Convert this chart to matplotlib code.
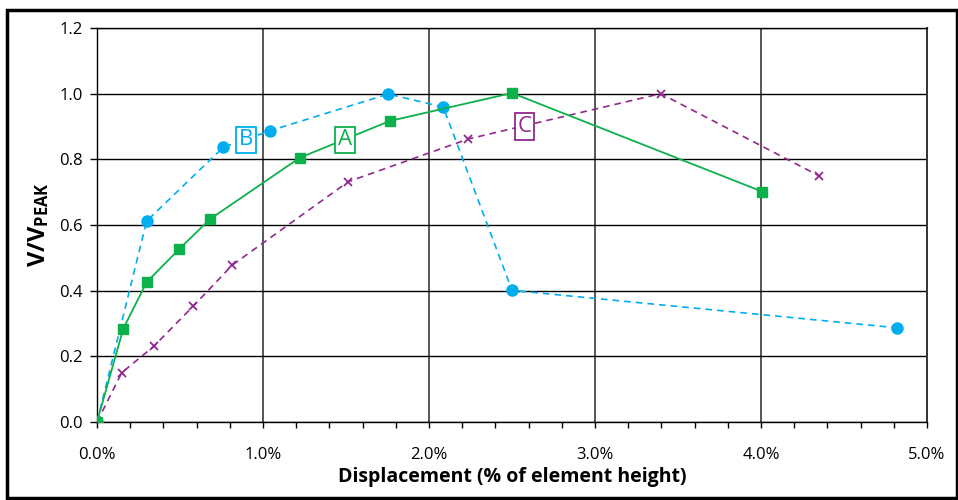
import matplotlib
matplotlib.use('Agg')
import matplotlib.pyplot as plt
from matplotlib.patches import Rectangle
from matplotlib.ticker import MultipleLocator, FuncFormatter

plt.rcParams['font.family'] = ['Open Sans', 'DejaVu Sans']
plt.rcParams['mathtext.fontset'] = 'custom'
plt.rcParams['mathtext.bf'] = 'Open Sans:bold'
plt.rcParams['mathtext.rm'] = 'Open Sans'

# drift (% of element height) and normalised shear V/Vpeak
a_x = [0.0, 0.158, 0.299, 0.494, 0.681, 1.222, 1.765, 2.50, 4.006]
a_y = [0.0, 0.284, 0.426, 0.526, 0.618, 0.805, 0.917, 1.002, 0.702]

b_x = [0.0, 0.299, 0.761, 1.042, 1.755, 2.086, 2.50, 4.817]
b_y = [0.0, 0.612, 0.837, 0.887, 0.999, 0.959, 0.401, 0.287]

c_x = [0.0, 0.149, 0.343, 0.580, 0.815, 1.514, 2.237, 3.396, 4.349]
c_y = [0.0, 0.150, 0.231, 0.353, 0.478, 0.732, 0.862, 1.000, 0.750]

green = '#0DB14B'
cyan = '#00AEEF'
purple = '#92278F'

fig = plt.figure(figsize=(9.58, 5.0), dpi=100)
ax = fig.add_axes([97/958, 78/500, 830/958, 394/500])

# outer frame round the whole figure
fig.patches.append(Rectangle((7/958, 2/500), 950/958, 488/500, transform=fig.transFigure,
                             fill=False, edgecolor='black', linewidth=2.5))

ax.plot(c_x, c_y, color=purple, linestyle=(0, (4, 3)), linewidth=1.2,
        marker='x', markersize=6, markeredgewidth=1.3, zorder=3)
ax.plot(b_x, b_y, color=cyan, linestyle=(0, (4, 3)), linewidth=1.2,
        marker='o', markersize=8, zorder=4)
ax.plot(a_x, a_y, color=green, linestyle='-', linewidth=1.3,
        marker='s', markersize=7, zorder=5)

# series labels
for lx, ly, s, col in [(0.896, 0.859, 'B', cyan), (1.494, 0.859, 'A', green), (2.574, 0.900, 'C', purple)]:
    ax.text(lx, ly, s, color=col, fontsize=16, ha='center', va='center', zorder=6,
            bbox=dict(boxstyle='square,pad=0.12', facecolor='white', edgecolor=col, linewidth=1.3))

ax.set_xlim(0, 5.0)
ax.set_ylim(0, 1.2)
ax.xaxis.set_major_locator(MultipleLocator(1.0))
ax.xaxis.set_minor_locator(MultipleLocator(0.2))
ax.yaxis.set_major_locator(MultipleLocator(0.2))
ax.xaxis.set_major_formatter(FuncFormatter(lambda v, p: '%.1f%%' % v))
ax.yaxis.set_major_formatter(FuncFormatter(lambda v, p: '%.1f' % v))

ax.grid(axis='y', color='black', linewidth=1.0)
ax.grid(axis='x', which='major', color='#555555', linewidth=1.4)
ax.set_axisbelow(True)

ax.tick_params(axis='x', which='both', direction='out', length=4, width=1.0, pad=14, labelsize=12)
ax.tick_params(axis='y', direction='out', length=5, width=1.0, pad=5, labelsize=12)
for sp in ['left', 'bottom', 'top']:
    ax.spines[sp].set_color('black')
    ax.spines[sp].set_linewidth(1.0)
ax.spines['right'].set_color('#333333')
ax.spines['right'].set_linewidth(1.4)

ax.set_xlabel('Displacement (% of element height)', fontsize=14, fontweight='bold', labelpad=3)
ax.set_ylabel(r'$\mathbf{V/V_{PEAK}}$', fontsize=17, labelpad=6)

fig.savefig('out.png', dpi=100)
